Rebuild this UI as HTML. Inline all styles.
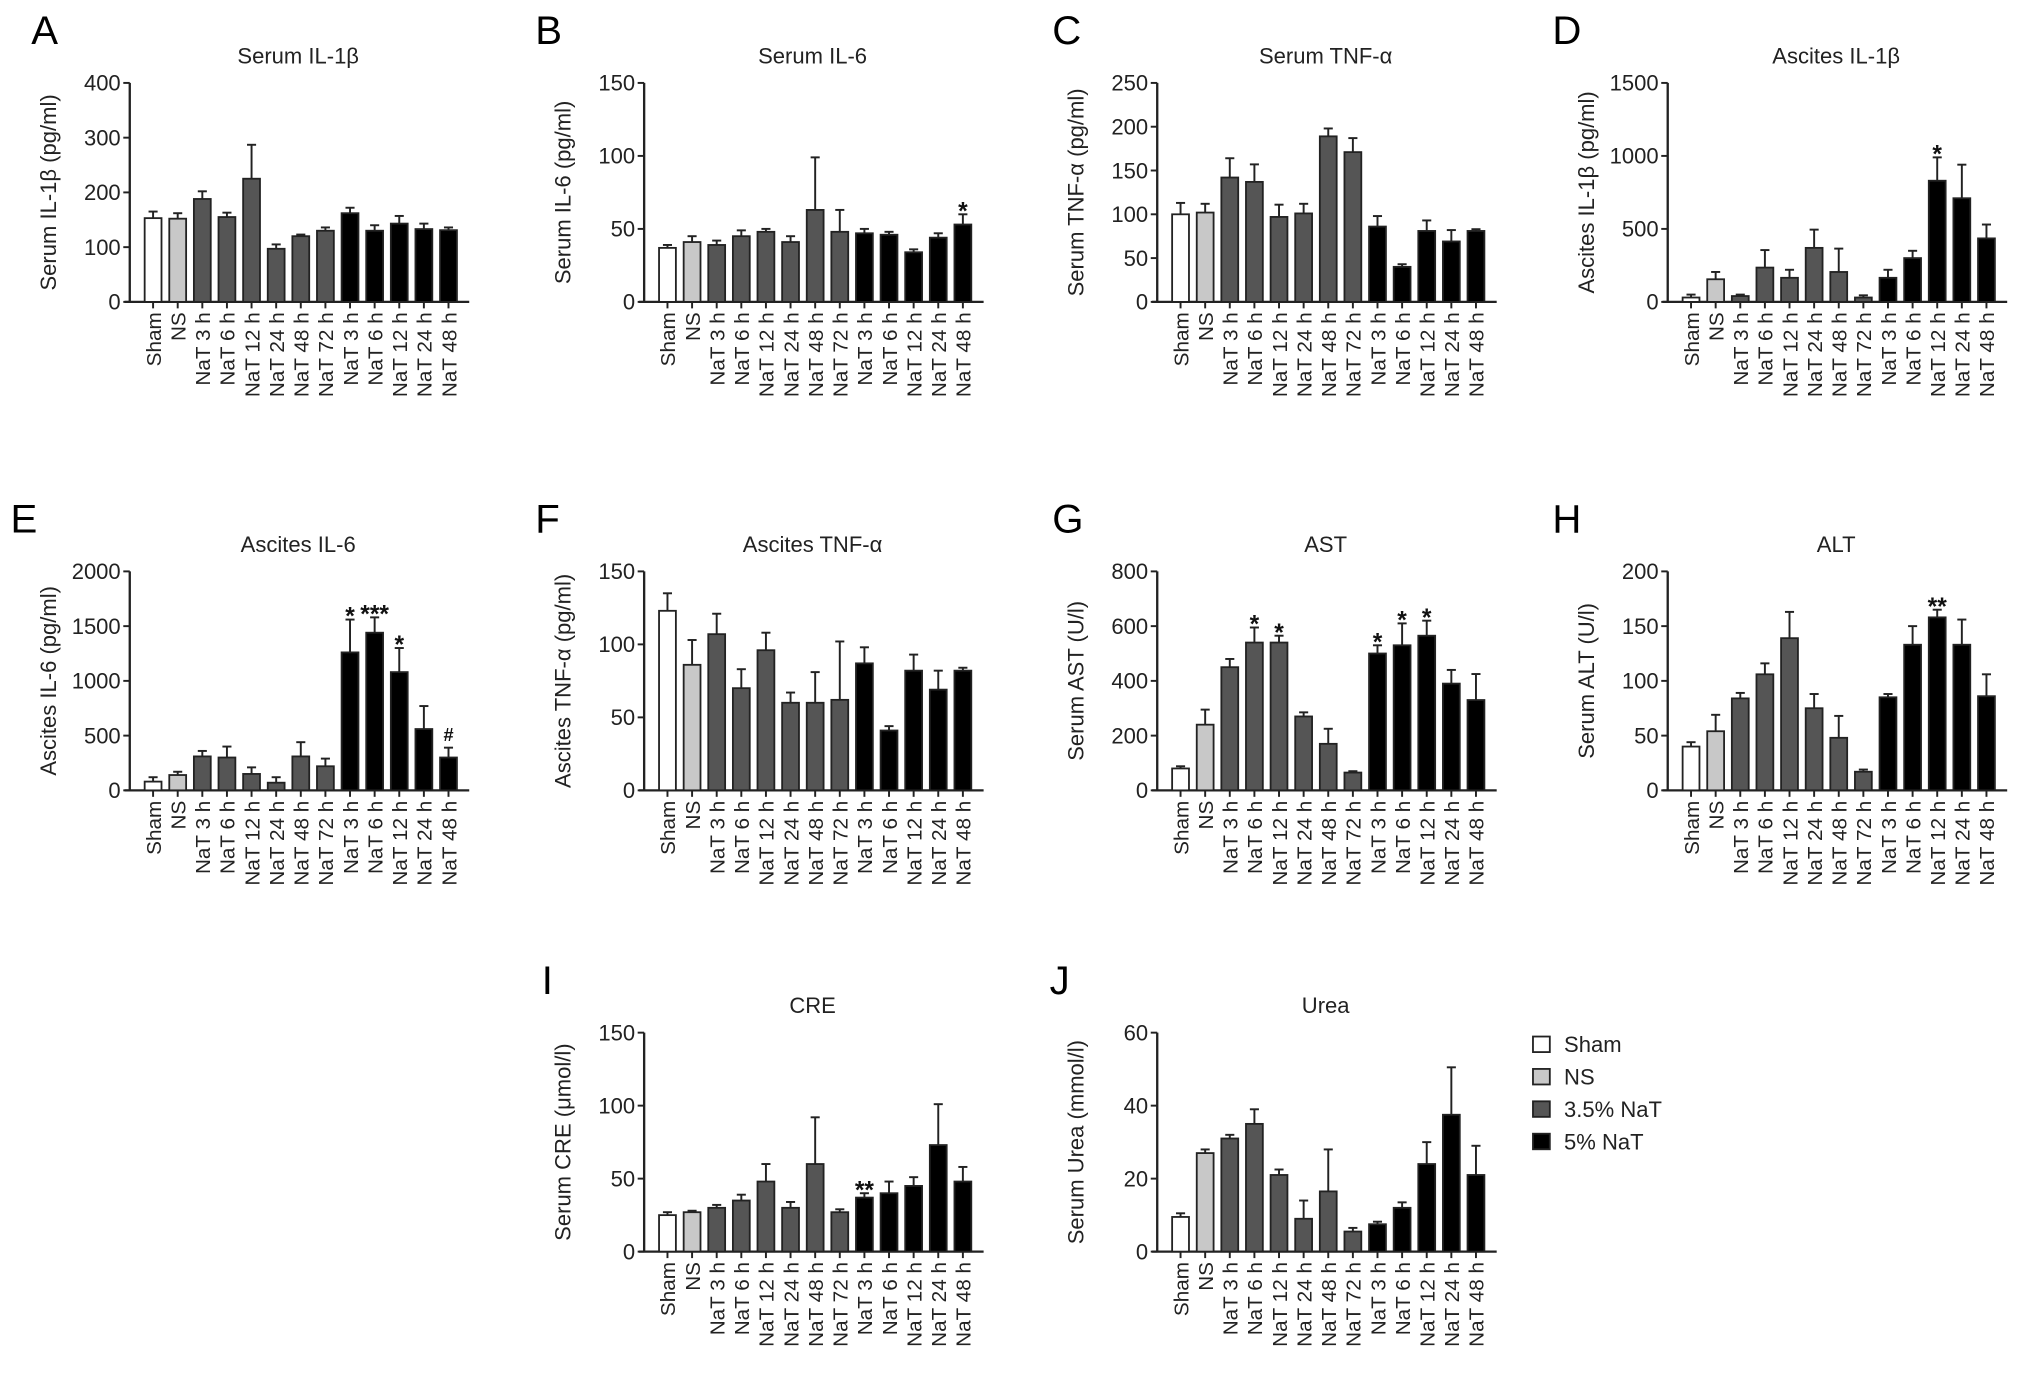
<!DOCTYPE html>
<html><head><meta charset="utf-8"><style>
html,body{margin:0;padding:0;background:#fff}
svg{display:block;font-family:"Liberation Sans",sans-serif}
</style></head><body>
<svg id="fig" width="2032" height="1376" viewBox="0 0 1568 1062" xmlns="http://www.w3.org/2000/svg"></svg>
<script>
const categories = ["Sham","NS","NaT 3 h","NaT 6 h","NaT 12 h","NaT 24 h","NaT 48 h","NaT 72 h","NaT 3 h","NaT 6 h","NaT 12 h","NaT 24 h","NaT 48 h"];
const groups = [0,1,2,2,2,2,2,2,3,3,3,3,3];
const aMean = [153,152,188,155,225,97,120,130,162,130,143,133,131];
const aErr = [12,10,14,8,62,8,3,6,10,10,14,10,5];
const bMean = [37,41,39,45,48,41,63,48,47,46,34,44,53];
const bErr = [2,4,3,4,2,4,36,15,3,2,2,3,7];
const cMean = [100,102,142,137,97,101,189,171,86,40,81,69,81];
const cErr = [13,10,22,20,14,11,9,16,12,3,12,13,2];
const dMean = [30,155,40,235,165,370,205,30,165,300,830,710,435];
const dErr = [20,50,10,120,55,125,160,15,55,50,160,230,95];
const eMean = [80,140,310,300,150,70,310,220,1260,1440,1080,560,300];
const eErr = [40,30,50,100,60,50,130,70,300,140,220,210,90];
const fMean = [123,86,107,70,96,60,60,62,87,41,82,69,82];
const fErr = [12,17,14,13,12,7,21,40,11,3,11,13,2];
const gMean = [80,240,450,540,540,270,170,65,500,530,565,390,330];
const gErr = [8,55,30,55,25,15,55,5,30,80,55,50,95];
const hMean = [40,54,84,106,139,75,48,17,85,133,158,133,86];
const hErr = [4,15,5,10,24,13,20,2,3,17,7,23,20];
const iMean = [25,27,30,35,48,30,60,27,37,40,45,73,48];
const iErr = [2,1,2,4,12,4,32,2,3,8,6,28,10];
const jMean = [9.5,27,31,35,21,9,16.5,5.5,7.5,12,24,37.5,21];
const jErr = [1,1,1,4,1.5,5,11.5,1,0.7,1.5,6,13,8];
const aTicks=[0,100,200,300,400], bTicks=[0,50,100,150], cTicks=[0,50,100,150,200,250],
      dTicks=[0,500,1000,1500], eTicks=[0,500,1000,1500,2000], fTicks=[0,50,100,150],
      gTicks=[0,200,400,600,800], hTicks=[0,50,100,150,200], iTicks=[0,50,100,150], jTicks=[0,20,40,60];
const fills=["#ffffff","#c8c8c8","#555555","#000000"];
const legendLabels=["Sham","NS","3.5% NaT","5% NaT"];

const svg=document.getElementById('fig');
const NS='http://www.w3.org/2000/svg';
function mk(tag,attrs,parent){const e=document.createElementNS(NS,tag);for(const k in attrs)e.setAttribute(k,attrs[k]);(parent||svg).appendChild(e);return e;}

const panels=[
 {L:"A",lx:24,ax:100,top:64,zero:233,title:"Serum IL-1β",yl:"Serum IL-1β (pg/ml)",m:aMean,e:aErr,t:aTicks,marks:{}},
 {L:"B",lx:413,ax:497,top:64,zero:233,title:"Serum IL-6",yl:"Serum IL-6 (pg/ml)",m:bMean,e:bErr,t:bTicks,marks:{12:"*"}},
 {L:"C",lx:812,ax:893,top:64,zero:233,title:"Serum TNF-α",yl:"Serum TNF-α (pg/ml)",m:cMean,e:cErr,t:cTicks,marks:{}},
 {L:"D",lx:1198,ax:1287,top:64,zero:233,title:"Ascites IL-1β",yl:"Ascites IL-1β (pg/ml)",m:dMean,e:dErr,t:dTicks,marks:{10:"*"}},
 {L:"E",lx:8,ax:100,top:441,zero:610,title:"Ascites IL-6",yl:"Ascites IL-6 (pg/ml)",m:eMean,e:eErr,t:eTicks,marks:{8:"*",9:"***",10:"*",12:"#"}},
 {L:"F",lx:413,ax:497,top:441,zero:610,title:"Ascites TNF-α",yl:"Ascites TNF-α (pg/ml)",m:fMean,e:fErr,t:fTicks,marks:{}},
 {L:"G",lx:812,ax:893,top:441,zero:610,title:"AST",yl:"Serum AST (U/l)",m:gMean,e:gErr,t:gTicks,marks:{3:"*",4:"*",8:"*",9:"*",10:"*"}},
 {L:"H",lx:1198,ax:1287,top:441,zero:610,title:"ALT",yl:"Serum ALT (U/l)",m:hMean,e:hErr,t:hTicks,marks:{10:"**"}},
 {L:"I",lx:418,ax:497,top:797,zero:966,title:"CRE",yl:"Serum CRE (μmol/l)",m:iMean,e:iErr,t:iTicks,marks:{8:"**"}},
 {L:"J",lx:810,ax:893,top:797,zero:966,title:"Urea",yl:"Serum Urea (mmol/l)",m:jMean,e:jErr,t:jTicks,marks:{}}
];

panels.forEach(p=>{
  const g=mk('g',{});
  
  
  const max=p.t[p.t.length-1];
  const y=v=>p.zero-(v/max)*(p.zero-p.top);
  const x0=p.ax+18, sp=19, bw=13;
  const xEnd=p.ax+262;
  const letter=mk('text',{x:p.lx,y:p.top-30,'font-size':31},g);letter.textContent=p.L;
  
  
  const tt=mk('text',{x:p.ax+130,y:p.top-15,'font-size':17,'text-anchor':'middle',fill:'#222'},g);tt.textContent=p.title;
  
  
  const yc=(p.top+p.zero)/2;
  const yl=mk('text',{x:0,y:0,'font-size':17,'text-anchor':'middle',fill:'#222',transform:`translate(${p.ax-57},${yc}) rotate(-90)`},g);yl.textContent=p.yl;
  
  
  const yaxis=mk('line',{x1:p.ax,y1:p.top,x2:p.ax,y2:p.zero,stroke:'#222','stroke-width':1.8},g);
  
  
  const xaxis=mk('line',{x1:p.ax-4,y1:p.zero,x2:xEnd,y2:p.zero,stroke:'#222','stroke-width':1.8},g);
  
  
  p.t.forEach(v=>{
    mk('line',{x1:p.ax-5,y1:y(v),x2:p.ax,y2:y(v),stroke:'#222','stroke-width':1.5},g);
    const tl=mk('text',{x:p.ax-7,y:y(v)+6,'font-size':17,'text-anchor':'end',fill:'#222'},g);tl.textContent=v;
    
    
  });
  categories.forEach((c,i)=>{
    const cx=x0+i*sp;
    const top=y(p.m[i]), et=y(p.m[i]+p.e[i]);
    mk('line',{x1:cx,y1:top,x2:cx,y2:et,stroke:'#222','stroke-width':1.5},g);
    mk('line',{x1:cx-3.5,y1:et,x2:cx+3.5,y2:et,stroke:'#222','stroke-width':1.5},g);
    const r=mk('rect',{x:cx-bw/2,y:top,width:bw,height:p.zero-top,fill:fills[groups[i]],stroke:'#222','stroke-width':1.4},g);
    
    
    mk('line',{x1:cx,y1:p.zero,x2:cx,y2:p.zero+5,stroke:'#222','stroke-width':1.5},g);
    const cl=mk('text',{x:0,y:0,'font-size':16,'text-anchor':'end',fill:'#222',transform:`translate(${cx+6},${p.zero+8}) rotate(-90)`},g);cl.textContent=c;
    
    
    if(p.marks[i]){
      const s=mk('text',{x:cx,y:et-3+(p.marks[i]==='#'?-2:7),'font-size':p.marks[i]==='#'?14:19,'text-anchor':'middle','font-weight':'bold',fill:'#111'},g);s.textContent=p.marks[i];
      
      
    }
  });
});

const lg=mk('g',{});


legendLabels.forEach((l,i)=>{
  const cy=806+i*25;
  mk('rect',{x:1183,y:cy-6,width:13,height:12,fill:fills[i],stroke:'#222','stroke-width':1.4},lg);
  const t=mk('text',{x:1207,y:cy+6,'font-size':17,fill:'#222'},lg);t.textContent=l;
  
  
});
</script>
</body></html>
